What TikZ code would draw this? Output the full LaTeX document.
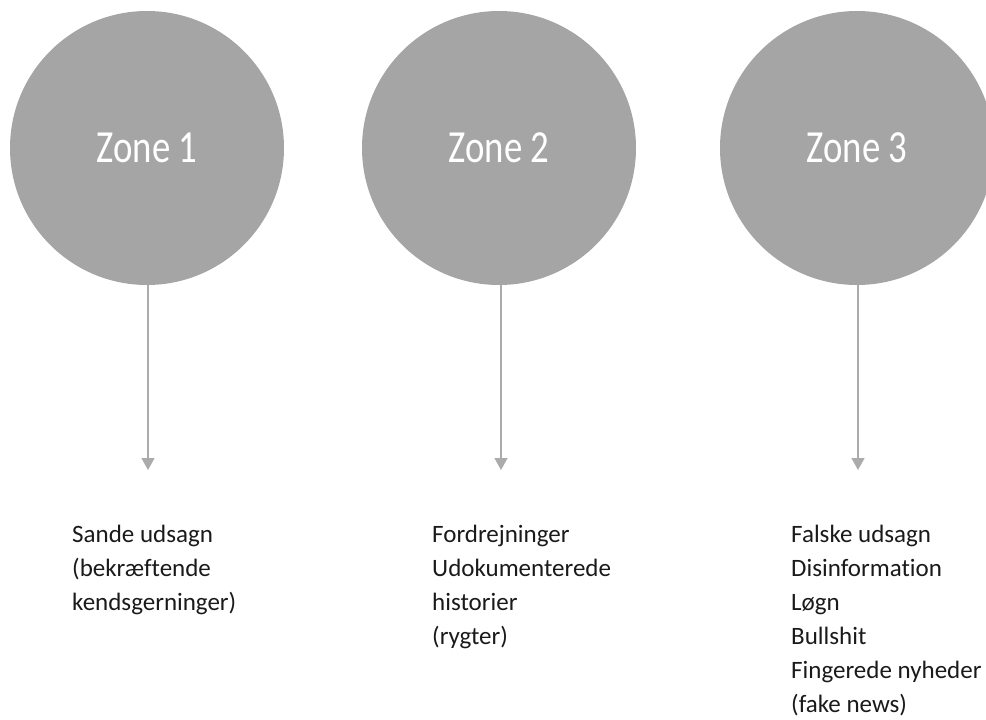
\documentclass[tikz,border=0pt]{standalone}
\usepackage{fontspec}
\setmainfont[Ligatures=NoCommon]{Carlito}
\newfontfamily\zonefont[FakeStretch=0.8,Ligatures=NoCommon]{Carlito}
\usetikzlibrary{arrows.meta}
\definecolor{circfill}{HTML}{A5A5A5}
\definecolor{arrowgray}{HTML}{ABABAB}
\definecolor{txt}{HTML}{1A1A1A}
\tikzset{
  zonecircle/.style={circle, fill=circfill, draw=none, minimum size=274pt, inner sep=0pt,
    text=white, font=\zonefont\fontsize{46}{50}\selectfont},
  zonearrow/.style={draw=arrowgray, line width=1.5pt, -{Triangle[width=13pt,length=12pt]}},
  listtext/.style={anchor=base west, align=left, inner sep=0pt, text=txt,
    font=\fontsize{25}{34}\selectfont}
}
\begin{document}
\begin{tikzpicture}[x=1pt, y=-1pt]
  \useasboundingbox (0,0) rectangle (986,720);
  \clip (0,0) rectangle (986,720);
  \node[zonecircle] (z1) at (147,148) {Zone 1};
  \node[zonecircle] (z2) at (499,148) {Zone 2};
  \node[zonecircle] (z3) at (857,148) {Zone 3};
  \coordinate (e1) at (148,470);
  \coordinate (e2) at (501,470);
  \coordinate (e3) at (858,470);
  \draw[zonearrow] (z1.south -| e1) -- (e1);
  \draw[zonearrow] (z2.south -| e2) -- (e2);
  \draw[zonearrow] (z3.south -| e3) -- (e3);
  % anchored at the baseline of the last line (lines 34pt apart, first baseline at 542)
  \node[listtext] (t1) at (72,610) {Sande udsagn\\(bekræftende\\kendsgerninger)};
  \node[listtext] (t2) at (432,644) {Fordrejninger\\Udokumenterede\\historier\\(rygter)};
  \node[listtext] (t3) at (791,712) {Falske udsagn\\Disinformation\\Løgn\\Bullshit\\Fingerede nyheder\\(fake news)};
\end{tikzpicture}
\end{document}
